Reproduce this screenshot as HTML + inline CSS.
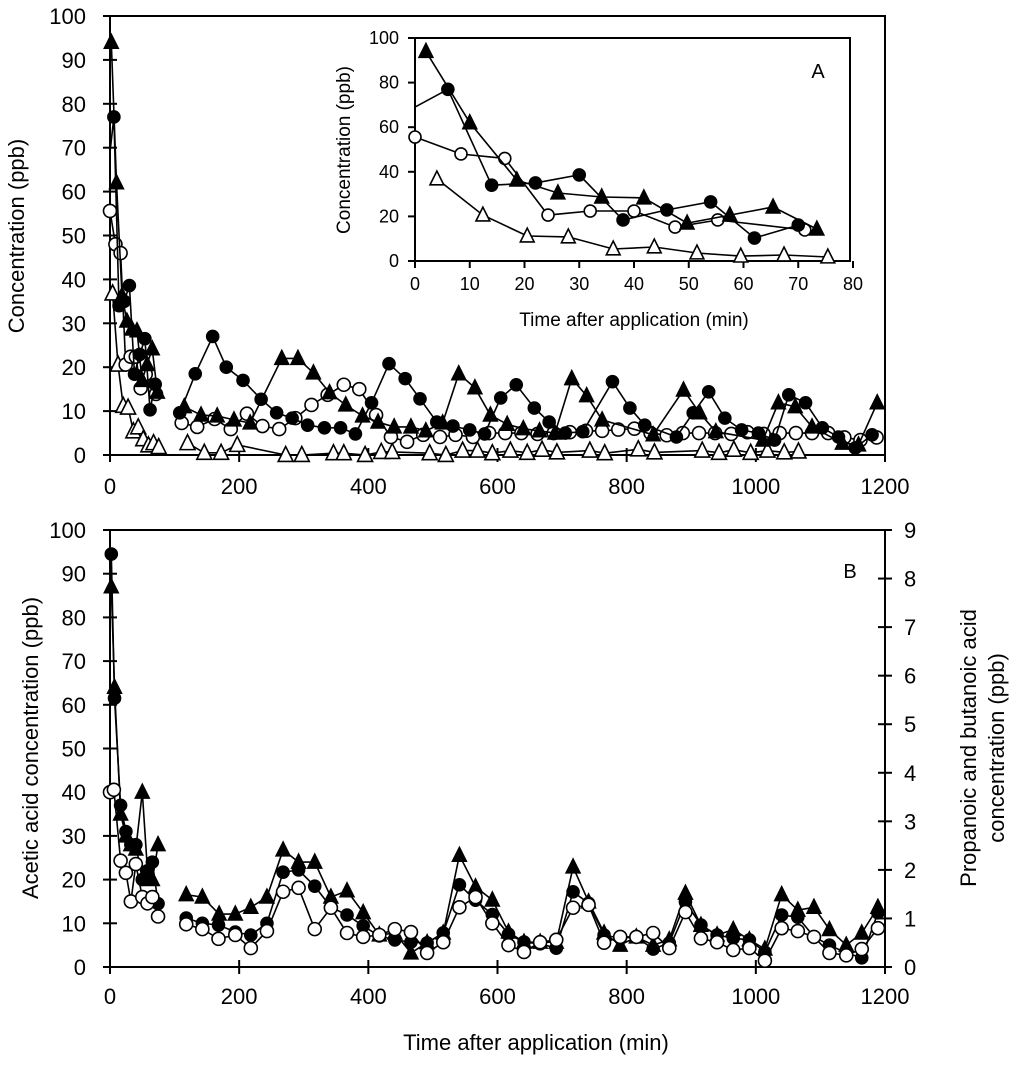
<!DOCTYPE html>
<html><head><meta charset="utf-8"><style>
body{margin:0;background:#fff}
svg text{font-family:"Liberation Sans",Arial,sans-serif;fill:#000}
</style></head><body>
<svg id="chart" width="1024" height="1067" viewBox="0 0 1024 1067" xmlns="http://www.w3.org/2000/svg"></svg>
<script>
// ---- Panel A (top) data: time (min) and concentration (ppb) ----
const aFilledCircleT=[0,6,14,22,30,38,46,54,62,70,108,132,159,180,206,234,258,282,306,332,357,380,405,432,457,480,506,531,557,580,605,629,657,680,705,732,778,805,828,877,903,927,952,978,1004,1029,1051,1077,1103,1128,1154,1180];
const aFilledCircleV=[69,77,34,35,38.6,18.4,22.9,26.5,10.3,16.1,9.6,18.5,27,20,17,12.7,9.6,8.4,6.8,6.2,6.2,4.8,11.9,20.8,17.4,12.8,7.5,6.6,5.7,4.8,13,16,10.7,7.5,5,5.3,16.7,10.7,6.8,4.1,9.6,14.4,8.4,5.7,5,3.4,13.7,11.9,6.2,4.1,1.6,4.6];
const aFilledTriT=[2,10,18.6,26.1,34.1,41.8,49.7,57.5,65.4,73.4,115,141,166,192,217,266,291,315,340,365,391,415,440,466,489,515,540,565,589,615,640,665,689,715,738,762,841,888,913,938,1011,1035,1061,1087,1134,1159,1188];
const aFilledTriV=[94,62,36.3,30.5,28.7,28.3,17,20.6,24.2,14.3,11,9.1,8.9,8,7.3,22,22,18.7,14.2,11.4,8.9,7.5,6.4,6.4,5.5,7.3,18.5,15.3,9.1,7,6,5.5,5,17.4,13.5,8,4.6,14.8,9.6,5.3,3.4,11.9,11,6.4,2.7,2.3,11.9];
const aOpenCircleT=[0,8.4,16.4,24.3,32,40,47.5,55.3,71.2,111,135,162,187,212,236,262,287,312,337,362,386,412,435,460,485,511,535,562,587,612,637,662,687,712,737,762,787,812,837,862,887,912,937,962,987,1012,1037,1062,1087,1112,1137,1162,1187];
const aOpenCircleV=[55.6,48,46,20.6,22.4,22.4,15.2,18.4,13.9,7.3,6.4,8.2,5.9,9.4,6.6,5.9,8.4,11.4,13.7,16,15,9.1,4.1,3,4.6,4.1,4.6,4.1,5,5,5,4.8,5,5.2,5.5,5.5,5.8,6,5,4.5,5,5,5,4.8,5.2,4.8,5,5,5,5,4,3.4,4];
const aOpenTriT=[4,12.4,20.5,28,36.2,43.7,51.5,59.5,67.4,75.4,120,146,172,197,272,297,346,362,395,420,437,495,520,546,569,592,620,646,669,692,743,766,818,843,917,943,966,992,1018,1044,1066];
const aOpenTriV=[36.8,20.6,11.2,10.8,5.4,6.3,3.6,2.2,2.7,1.8,2.7,0.5,0.5,2.3,0,0,0.4,0.4,0,0.7,0.7,0.4,0,1,1,0.4,1,0.5,1.2,0.6,1,0.4,1.3,0.6,1,0.5,1.2,0.5,1,0.6,0.8];
// ---- Panel B (bottom) data ----
const bAceticT=[2,7,16.4,24.6,32.3,40,50,58,65.6,74.4,118,143,168,194,218,243,268,292,317,342,367,392,417,441,466,491,516,541,566,592,617,641,666,691,717,741,765,790,815,841,866,891,915,940,965,990,1014,1040,1065,1090,1114,1140,1164,1189];
const bAceticV=[94.5,61.5,37,31,28,28,20,22,24,14.5,11.2,10,9.6,8,7.3,10,21.7,22.2,18.5,13.7,11.9,9.4,7.1,6.2,5.7,5.5,7.8,18.8,15.3,12,7.5,5.7,5.3,4.3,17.2,14.6,7.3,6.6,6.9,4.1,5.5,14.9,9.6,7.3,6.6,6.2,3.4,11.9,11.4,6.9,5,3.2,2.1,12.4];
// propanoic & butanoic acids: values in right-axis ppb (0-9)
const bPropT=[2,7,16.4,24.6,32.3,40,50,58,65.6,74.4,118,143,169,194,218,243,268,292,317,342,367,392,417,441,466,491,516,541,566,592,617,641,666,691,717,741,765,790,815,841,866,891,915,940,965,990,1014,1040,1065,1090,1114,1140,1164,1189];
const bPropV=[7.83,5.76,3.15,2.7,2.52,2.43,3.6,1.98,1.8,2.52,1.49,1.44,1.09,1.09,1.23,1.44,2.41,2.16,2.16,1.44,1.57,1.12,0.66,0.7,0.29,0.5,0.7,2.3,1.65,1.38,0.72,0.51,0.51,0.51,2.06,1.34,0.7,0.45,0.62,0.45,0.56,1.52,0.86,0.66,0.77,0.56,0.37,1.49,1.17,1.23,0.77,0.45,0.7,1.23];
const bButT=[0,6,16.4,24.6,32.3,40,50,58,65.6,74.4,118,143,168,194,218,243,268,292,317,342,367,392,417,441,466,491,516,541,566,592,617,641,666,691,717,741,765,790,815,841,866,891,915,940,965,990,1014,1040,1065,1090,1114,1140,1164,1189];
const bButV=[3.6,3.65,2.19,1.94,1.35,2.12,1.44,1.31,1.44,1.04,0.88,0.78,0.58,0.66,0.39,0.74,1.55,1.63,0.78,1.22,0.7,0.62,0.66,0.78,0.72,0.29,0.51,1.23,1.44,0.9,0.45,0.31,0.51,0.56,1.22,1.28,0.5,0.62,0.62,0.7,0.39,1.13,0.59,0.51,0.35,0.39,0.13,0.8,0.74,0.62,0.29,0.24,0.37,0.8];
const xTicksMain=[0,200,400,600,800,1000,1200];
const yTicksMain=[0,10,20,30,40,50,60,70,80,90,100];
const yTicksRight=[0,1,2,3,4,5,6,7,8,9];
const xTicksInset=[0,10,20,30,40,50,60,70,80];
const yTicksInset=[0,20,40,60,80,100];

const svg=document.getElementById('chart');
const NS='http://www.w3.org/2000/svg';
function mk(tag,attrs,parent){const e=document.createElementNS(NS,tag);for(const k in attrs)e.setAttribute(k,attrs[k]);(parent||svg).appendChild(e);return e;}
function lin(d0,d1,r0,r1){return v=>r0+(v-d0)*(r1-r0)/(d1-d0);}

function axesBox(g,x0,x1,y0,y1,name){
  const r=mk('rect',{x:x0,y:y1,width:x1-x0,height:y0-y1,fill:'none',stroke:'#000','stroke-width':2},g);
  
  
}
function text(g,x,y,s,size,anchor,name,rot){
  const t=mk('text',{x:x,y:y,'font-size':size,'text-anchor':anchor||'middle'},g);
  if(rot)t.setAttribute('transform','rotate(-90 '+x+' '+y+')');
  t.textContent=s;
  
  
  return t;
}
function series(g,T,V,sx,sy,marker,r,name,skipFirst){
  const sg=mk('g',{},g);
  
  
  let d='';
  for(let i=0;i<T.length;i++){
    const gap=i>0&&(T[i]-T[i-1])>30&&T[i-1]<100;
    d+=(i===0||gap?'M':'L')+sx(T[i]).toFixed(1)+' '+sy(V[i]).toFixed(1)+' ';
  }
  mk('path',{d:d,fill:'none',stroke:'#000','stroke-width':1.6},sg);
  for(let i=skipFirst?1:0;i<T.length;i++){
    const x=sx(T[i]),y=sy(V[i]);
    const fill=(marker==='fc'||marker==='ft')?'#000':'#fff';
    let m;
    if(marker==='fc'||marker==='oc'){m=mk('circle',{cx:x,cy:y,r:r,fill:fill,stroke:'#000','stroke-width':1.6},sg);}
    else{const h=r*1.15;m=mk('polygon',{points:`${x},${y-h-1} ${x-h},${y+h-1} ${x+h},${y+h-1}`,fill:fill,stroke:'#000','stroke-width':1.6},sg);}
    
    
  }
}

// ===== Panel A main =====
const gA=mk('g',{});


const ax=lin(0,1200,110,885), ay=lin(0,100,455,16);
axesBox(gA,110,885,455,16,'panel-a-frame');
xTicksMain.forEach(v=>{mk('line',{x1:ax(v),x2:ax(v),y1:448,y2:462,stroke:'#000','stroke-width':2},gA);text(gA,ax(v),494,String(v),22,'middle','x-tick-label-a');});
yTicksMain.forEach(v=>{mk('line',{x1:103,x2:117,y1:ay(v),y2:ay(v),stroke:'#000','stroke-width':2},gA);text(gA,86,ay(v)+8,String(v),22,'end','y-tick-label-a');});
text(gA,24,236,'Concentration (ppb)',22,'middle','y-axis-title-a',true);
series(gA,aOpenTriT,aOpenTriV,ax,ay,'ot',6.5,'series-a-open-triangle');
series(gA,aOpenCircleT,aOpenCircleV,ax,ay,'oc',6.5,'series-a-open-circle');
series(gA,aFilledTriT,aFilledTriV,ax,ay,'ft',6,'series-a-filled-triangle');
series(gA,aFilledCircleT,aFilledCircleV,ax,ay,'fc',6,'series-a-filled-circle',true);

// ===== Inset =====
const gI=mk('g',{});


mk('rect',{x:415,y:38,width:435,height:223,fill:'#fff'},gI);
const ix=lin(0,80,415,853), iy=lin(0,100,261,38);
axesBox(gI,415,850,261,38,'inset-frame');
xTicksInset.forEach(v=>{mk('line',{x1:ix(v),x2:ix(v),y1:261,y2:268,stroke:'#000','stroke-width':2},gI);text(gI,ix(v),290,String(v),18,'middle','inset-x-tick-label');});
yTicksInset.forEach(v=>{mk('line',{x1:408,x2:415,y1:iy(v),y2:iy(v),stroke:'#000','stroke-width':2},gI);text(gI,399,iy(v)+6,String(v),18,'end','inset-y-tick-label');});
text(gI,634,326,'Time after application (min)',19,'middle','inset-x-axis-title');
text(gI,350,150,'Concentration (ppb)',19,'middle','inset-y-axis-title',true);
text(gI,818,78,'A',20,'middle','panel-a-label');
function sub(T,V){const t=[],v=[];T.forEach((x,i)=>{if(x<=80){t.push(x);v.push(V[i]);}});return[t,v];}
[[aOpenTriT,aOpenTriV,'ot'],[aOpenCircleT,aOpenCircleV,'oc'],[aFilledTriT,aFilledTriV,'ft'],[aFilledCircleT,aFilledCircleV,'fc']].forEach(([T,V,m])=>{
  const [t,v]=sub(T,V);
  const s=mk('g',{},gI);
  
  
  series(s,t,v,ix,iy,m,6,'inset-series-'+m,m==='fc');
});

// ===== Panel B =====
const gB=mk('g',{});


const by=lin(0,100,967,530), byR=lin(0,9,967,530);
axesBox(gB,110,885,967,530,'panel-b-frame');
xTicksMain.forEach(v=>{mk('line',{x1:ax(v),x2:ax(v),y1:960,y2:974,stroke:'#000','stroke-width':2},gB);text(gB,ax(v),1004,String(v),22,'middle','x-tick-label-b');});
yTicksMain.forEach(v=>{mk('line',{x1:103,x2:117,y1:by(v),y2:by(v),stroke:'#000','stroke-width':2},gB);text(gB,86,by(v)+8,String(v),22,'end','y-tick-label-left-b');});
yTicksRight.forEach(v=>{mk('line',{x1:878,x2:892,y1:byR(v),y2:byR(v),stroke:'#000','stroke-width':2},gB);text(gB,904,byR(v)+8,String(v),22,'start','y-tick-label-right-b');});
text(gB,536,1050,'Time after application (min)',22,'middle','x-axis-title');
text(gB,38,748,'Acetic acid concentration (ppb)',22,'middle','y-axis-title-left-b',true);
text(gB,976,748,'Propanoic and butanoic acid',22,'middle','y-axis-title-right-line1',true);
text(gB,1004,748,'concentration (ppb)',22,'middle','y-axis-title-right-line2',true);
text(gB,850,578,'B',20,'middle','panel-b-label');
series(gB,bPropT,bPropV,ax,byR,'ft',6,'series-b-propanoic');
series(gB,bAceticT,bAceticV,ax,by,'fc',6,'series-b-acetic');
series(gB,bButT,bButV,ax,byR,'oc',6.5,'series-b-butanoic');
</script>
</body></html>
